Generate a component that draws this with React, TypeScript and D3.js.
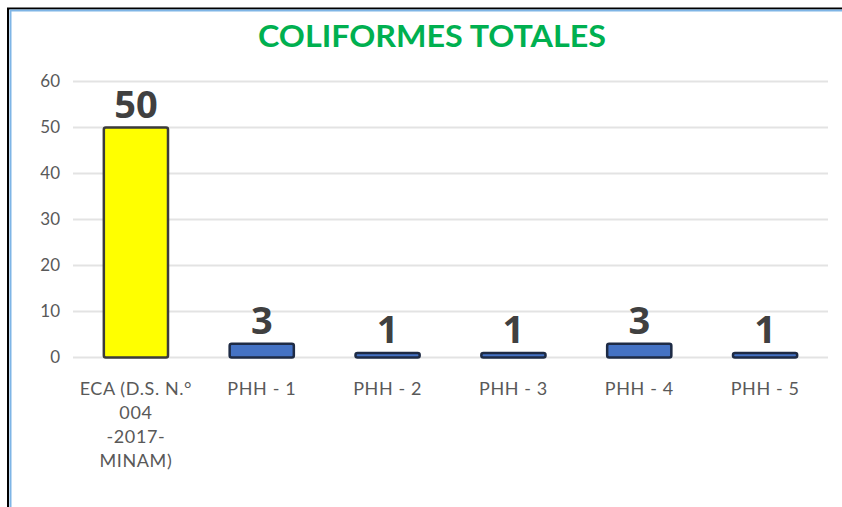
import React, { useEffect, useRef } from "react";
import * as d3 from "d3";

const categories = ["ECA (D.S. N.° 004 -2017- MINAM)", "PHH - 1", "PHH - 2", "PHH - 3", "PHH - 4", "PHH - 5"];
const categoryLines = [["ECA (D.S. N.°", "004", "-2017-", "MINAM)"], ["PHH - 1"], ["PHH - 2"], ["PHH - 3"], ["PHH - 4"], ["PHH - 5"]];
const values = [50, 3, 1, 1, 3, 1];
const yTicks = [0, 10, 20, 30, 40, 50, 60];

export default function App() {
  const ref = useRef<SVGSVGElement>(null);

  useEffect(() => {
    const svg = d3.select(ref.current);
    svg.selectAll("*").remove();

    const left = 73, right = 828, top = 81.5, bottom = 357.5;

    const x = d3.scaleBand().domain(categories).range([left, right]).paddingInner(0.49).paddingOuter(0.245);
    const y = d3.scaleLinear().domain([0, 60]).range([bottom, top]);

    svg.append("rect").attr("width", 842).attr("height", 507).attr("fill", "#fff");

    // frame
    svg.append("line").attr("x1", 7).attr("x2", 842).attr("y1", 8.5).attr("y2", 8.5).attr("stroke", "#000").attr("stroke-width", 2);
    svg.append("line").attr("x1", 8).attr("x2", 8).attr("y1", 8).attr("y2", 507).attr("stroke", "#000").attr("stroke-width", 2);
    svg.append("line").attr("x1", 10).attr("x2", 842).attr("y1", 10.5).attr("y2", 10.5).attr("stroke", "#7fb5e6").attr("stroke-width", 2);
    svg.append("line").attr("x1", 10.5).attr("x2", 10.5).attr("y1", 10).attr("y2", 507).attr("stroke", "#7fb5e6").attr("stroke-width", 2);

    svg.append("text")
      .attr("x", 432).attr("y", 47)
      .attr("text-anchor", "middle")
      .attr("font-family", "Lato, 'Open Sans', sans-serif")
      .attr("font-weight", "bold")
      .attr("font-size", 31)
      .attr("textLength", 348)
      .attr("lengthAdjust", "spacingAndGlyphs")
      .attr("fill", "#00b050")
      .text("COLIFORMES TOTALES");

    // gridlines
    svg.selectAll(".grid").data(yTicks).join("line").attr("class", "grid")
      .attr("x1", left).attr("x2", right)
      .attr("y1", d => y(d)).attr("y2", d => y(d))
      .attr("stroke", "#e3e3e3").attr("stroke-width", 2);

    // y axis labels
    const yAxis = svg.append("g").attr("transform", `translate(${left},0)`)
      .call(d3.axisLeft(y).tickValues(yTicks).tickSize(0).tickPadding(13));
    yAxis.select(".domain").remove();
    yAxis.selectAll("text")
      .attr("font-family", "Lato, 'Open Sans', sans-serif")
      .attr("font-size", 17)
      .attr("fill", "#595959");

    // bars
    svg.selectAll(".bar").data(values).join("rect").attr("class", "bar")
      .attr("x", (d, i) => x(categories[i])!)
      .attr("y", d => y(d))
      .attr("width", x.bandwidth())
      .attr("height", d => y(0) - y(d))
      .attr("rx", 2)
      .attr("fill", (d, i) => (i === 0 ? "#ffff00" : "#4472c4"))
      .attr("stroke", (d, i) => (i === 0 ? "#3b3b3b" : "#1e2b45"))
      .attr("stroke-width", 2.5);

    // value labels
    svg.selectAll(".val").data(values).join("text").attr("class", "val")
      .attr("x", (d, i) => x(categories[i])! + x.bandwidth() / 2)
      .attr("y", d => y(d) - 10)
      .attr("text-anchor", "middle")
      .attr("font-family", "'Open Sans', sans-serif")
      .attr("font-weight", "bold")
      .attr("font-size", 38)
      .attr("fill", "#404040")
      .text(d => d);

    // category labels
    const cat = svg.selectAll(".cat").data(categoryLines).join("text").attr("class", "cat")
      .attr("text-anchor", "middle")
      .attr("font-family", "Lato, 'Open Sans', sans-serif")
      .attr("font-size", 18)
      .attr("letter-spacing", 0.6)
      .attr("fill", "#595959");
    cat.each(function (lines, i) {
      const cx = x(categories[i])! + x.bandwidth() / 2;
      d3.select(this).selectAll("tspan").data(lines).join("tspan")
        .attr("x", cx)
        .attr("y", (l, j) => 395 + j * 24)
        .text(l => l);
    });
  }, []);

  return (
    <svg ref={ref} width={842} height={507} style={{ position: "absolute", left: 0, top: 0 }} />
  );
}
